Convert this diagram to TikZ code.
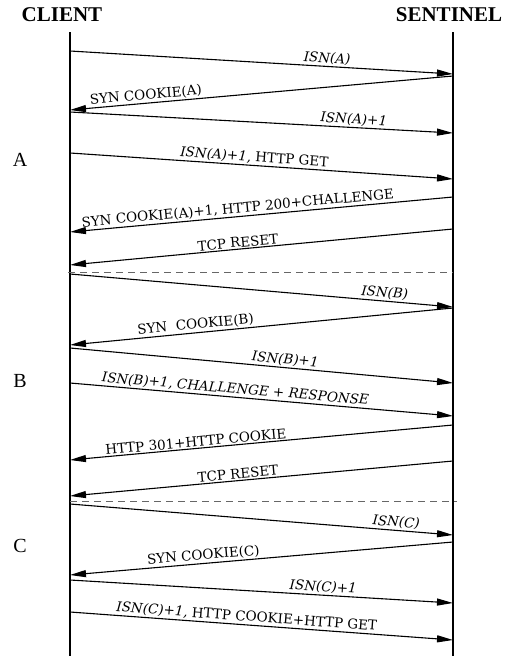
\documentclass[tikz,border=0pt]{standalone}
\usepackage{fontspec}
\setmainfont{Liberation Serif}
\newfontfamily\msgfont{DejaVu Serif}
\usetikzlibrary{positioning, arrows.meta, calc}

\begin{document}
\begin{tikzpicture}[x=1pt, y=-1pt,
  head/.style={font=\bfseries\fontsize{21}{21}\selectfont, inner sep=0pt},
  phase/.style={font=\fontsize{20}{20}\selectfont, inner sep=0pt},
  lifeline/.style={line width=1.1pt},
  msg/.style={line width=1.1pt, -{Triangle[length=16pt, width=7pt]}},
  lbl/.style={sloped, above, inner sep=1.2pt, font=\msgfont\fontsize{13.5}{13.5}\selectfont},
  sep/.style={gray!80!black, line width=0.6pt, dash pattern=on 7pt off 5pt}]
\useasboundingbox (0,0) rectangle (511,656);

% participants
\node[head] (client) at (62,15) {CLIENT};
\node[head] (sentinel) at (449,15) {SENTINEL};
\coordinate (cl) at (70,32);
\coordinate (sl) at (453,32);
\coordinate (clend) at (70,656);
\coordinate (slend) at (453,656);
\draw[lifeline] (cl) -- (clend);
\draw[lifeline] (sl) -- (slend);

% phases
\node[phase] (phaseA) at (20,160) {A};
\node[phase] (phaseB) at (20,381) {B};
\node[phase] (phaseC) at (20,546) {C};

% phase A
\draw[msg] (cl |- 0,51) -- (sl |- 0,74) node[lbl, pos=.67] {\itshape ISN(A)};
\draw[msg] (sl |- 0,76) -- (cl |- 0,110) node[lbl, pos=.80] {SYN COOKIE(A)};
\draw[msg] (cl |- 0,112) -- (sl |- 0,133) node[lbl, pos=.74] {\itshape ISN(A)+1};
\draw[msg] (cl |- 0,153) -- (sl |- 0,179) node[lbl, pos=.48] {\textit{ISN(A)+1,} HTTP GET};
\draw[msg] (sl |- 0,197) -- (cl |- 0,232) node[lbl, pos=.56] {SYN COOKIE(A)+1, HTTP 200+CHALLENGE};
\draw[msg] (sl |- 0,229) -- (cl |- 0,265) node[lbl, pos=.56] {TCP RESET};
\draw[sep] ([xshift=-2pt]cl |- 0,272) -- (sl |- 0,272);

% phase B
\draw[msg] (cl |- 0,274) -- (sl |- 0,307) node[lbl, pos=.82] {\itshape ISN(B)};
\draw[msg] (sl |- 0,308) -- (cl |- 0,345) node[lbl, pos=.67] {SYN~~COOKIE(B)};
\draw[msg] (cl |- 0,348) -- (sl |- 0,383) node[lbl, pos=.56] {\itshape ISN(B)+1};
\draw[msg] (cl |- 0,383) -- (sl |- 0,416) node[lbl, pos=.43] {\itshape ISN(B)+1, CHALLENGE + RESPONSE};
\draw[msg] (sl |- 0,425) -- (cl |- 0,460) node[lbl, pos=.67] {HTTP 301+HTTP COOKIE};
\draw[msg] (sl |- 0,461) -- (cl |- 0,496) node[lbl, pos=.56] {TCP RESET};
\draw[sep] (cl |- 0,501) -- ([xshift=4pt]sl |- 0,501);

% phase C
\draw[msg] (cl |- 0,504) -- (sl |- 0,535) node[lbl, pos=.85] {\itshape ISN(C)};
\draw[msg] (sl |- 0,542) -- (cl |- 0,575) node[lbl, pos=.65] {SYN COOKIE(C)};
\draw[msg] (cl |- 0,580) -- (sl |- 0,603) node[lbl, pos=.66] {\itshape ISN(C)+1};
\draw[msg] (cl |- 0,612) -- (sl |- 0,640) node[lbl, pos=.46] {\textit{ISN(C)+1,} HTTP COOKIE+HTTP GET};
\end{tikzpicture}
\end{document}
